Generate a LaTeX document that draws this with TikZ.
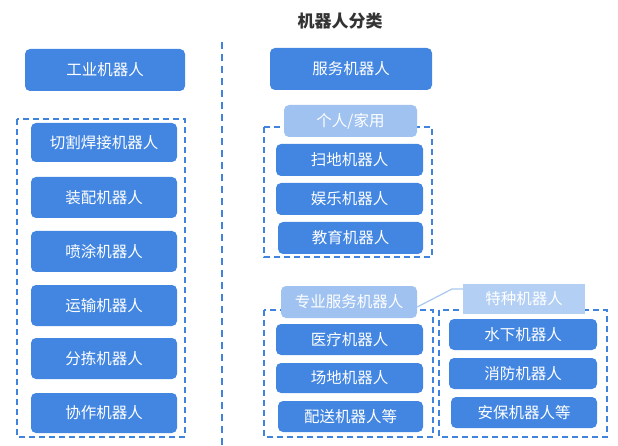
\documentclass[tikz,border=0pt]{standalone}
\usepackage{fontspec}
\setmainfont{Noto Sans CJK SC}
\usetikzlibrary{calc}
\definecolor{mainblue}{HTML}{4286E2}
\definecolor{lightblue}{HTML}{9FC2F1}
\definecolor{paleblue}{HTML}{B3CFF4}
\definecolor{dashblue}{HTML}{3F83DD}
\definecolor{linkblue}{HTML}{A9C7F0}
\definecolor{titlegray}{HTML}{333333}
\tikzset{
  mainbox/.style={fill=mainblue, draw=none, rounded corners=5pt, text=white,
    font=\fontsize{15.5}{18}\selectfont, inner sep=0pt, anchor=center},
  labelbox/.style={fill=lightblue, draw=none, rounded corners=5pt, text=white,
    font=\fontsize{15.5}{18}\selectfont, inner sep=0pt, anchor=center},
  squarebox/.style={fill=paleblue, draw=none, text=white,
    font=\fontsize{15.5}{18}\selectfont, inner sep=0pt, anchor=center},
  groupframe/.style={draw=dashblue, line width=1.4pt, dash pattern=on 6pt off 4pt},
  divider/.style={draw=dashblue, line width=1.4pt, dash pattern=on 7pt off 5pt},
  link/.style={draw=linkblue, line width=1.2pt}
}
\newcommand{\bx}[6]{% style, name, x1, y1, x2, y2 ... text via next arg
  \node[#1, minimum width={(#5-#3)*1pt}, minimum height={(#6-#4)*1pt}] (#2) at ({(#3+#5)/2},{(#4+#6)/2})}
\begin{document}
\begin{tikzpicture}[x=1pt, y=-1pt]
\useasboundingbox (0,0) rectangle (618,446);
% title
\node[font=\fontsize{17}{20}\selectfont\bfseries, text=titlegray] (title) at (340,21) {机器人分类};
% divider
\coordinate (dtop) at (222,42);
\coordinate (dbot) at (222,446);
\draw[divider] (dtop) -- (dbot);
% top boxes
\bx{mainbox}{gy}{25}{49}{185}{91} {工业机器人};
\bx{mainbox}{fw}{270}{48}{432}{90} {服务机器人};
% left group
\draw[groupframe] (17,119) rectangle (185,437);
\bx{mainbox}{qg}{31}{123}{177}{162} {切割焊接机器人};
\bx{mainbox}{zp}{31}{177}{177}{218} {装配机器人};
\bx{mainbox}{pt}{31}{231}{177}{272} {喷涂机器人};
\bx{mainbox}{ys}{31}{285}{177}{326} {运输机器人};
\bx{mainbox}{fj}{31}{338}{177}{379} {分拣机器人};
\bx{mainbox}{xz}{31}{393}{177}{433} {协作机器人};
% personal / home group
\draw[groupframe] (264,127) rectangle (432,257);
\bx{labelbox}{gr}{284}{105}{417}{137} {个人/家用};
\bx{mainbox}{sd}{276}{144}{423}{176} {扫地机器人};
\bx{mainbox}{yl}{276}{183}{423}{215} {娱乐机器人};
\bx{mainbox}{jy}{278}{222}{423}{254} {教育机器人};
% professional service group
\draw[groupframe] (264,310) rectangle (433,437);
\bx{labelbox}{zy}{281}{286}{417}{318} {专业服务机器人};
\bx{mainbox}{yiliao}{276}{324}{423}{355} {医疗机器人};
\bx{mainbox}{cd}{276}{363}{423}{393} {场地机器人};
\bx{mainbox}{ps}{278}{401}{423}{432} {配送机器人等};
% special group
\draw[groupframe] (439,310) rectangle (607,437);
\bx{squarebox}{tz}{463}{284}{585}{314} {特种机器人};
\bx{mainbox}{sx}{449}{319}{597}{350} {水下机器人};
\bx{mainbox}{xf}{449}{358}{597}{389} {消防机器人};
\bx{mainbox}{ab}{451}{397}{597}{428} {安保机器人等};
% link between professional service and special
\coordinate (bend) at (452,289);
\draw[link] ([yshift=-5pt]zy.east) -- (bend) -- ([yshift=10pt]tz.west);
\end{tikzpicture}
\end{document}
